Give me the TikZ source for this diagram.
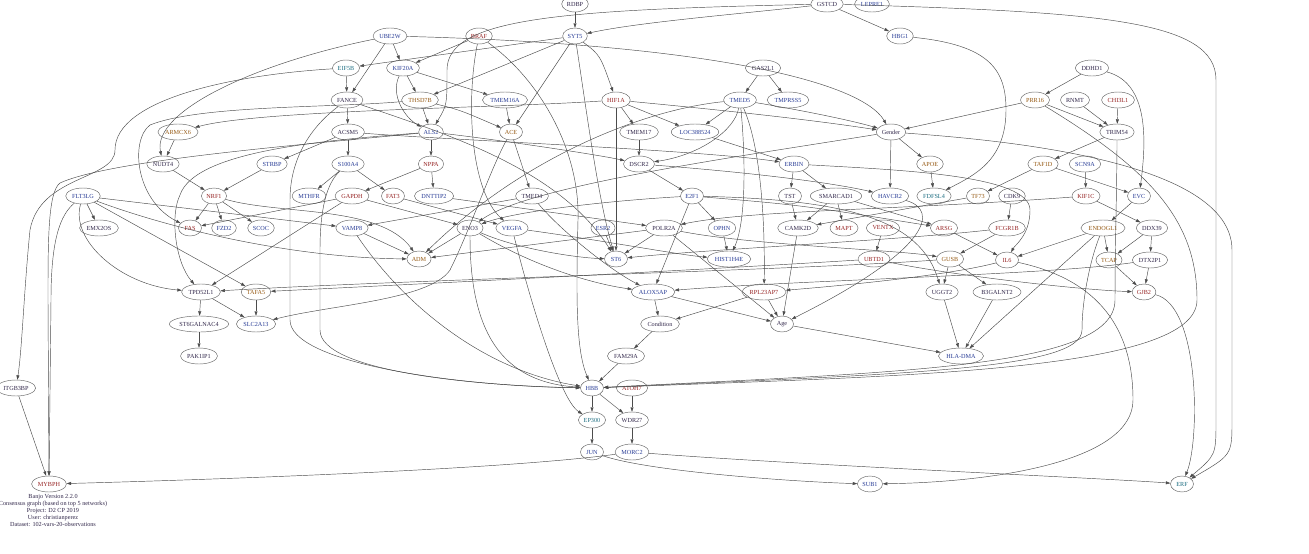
\documentclass[tikz,border=0pt]{standalone}
\usepackage{fontspec}
\setmainfont{Liberation Serif}
\usetikzlibrary{shapes.geometric,arrows.meta}
\definecolor{cb}{RGB}{40,60,150}
\definecolor{cr}{RGB}{150,35,35}
\definecolor{co}{RGB}{150,90,20}
\definecolor{ct}{RGB}{30,110,130}
\definecolor{cd}{RGB}{50,40,75}
\newcommand\gn[4]{\node[nd,text=#4] (#1) at (#2) {#3};}
\begin{document}
\begin{tikzpicture}[x=1pt,y=-1pt,
  nd/.style={ellipse,draw=black!60,line width=0.45pt,minimum height=16pt,minimum width=23pt,inner xsep=1.3pt,inner ysep=0pt,font=\fontsize{6.2}{7}\selectfont},
  e/.style={-{Triangle[length=4.5pt,width=3pt]},draw=black!70,line width=0.45pt}]
\fill[white] (0,0) rectangle (1309,554);
\useasboundingbox (0,0) rectangle (1309,554);
% nodes
\gn{RDBP}{575,4}{RDBP}{cd}
\gn{GSTCD}{827,4}{GSTCD}{cd}
\gn{LEPRE1}{872,4}{LEPRE1}{cb}
\gn{UBE2W}{390,36}{UBE2W}{cb}
\gn{BRAF}{479,36}{BRAF}{cr}
\gn{SYT5}{575,36}{SYT5}{cb}
\gn{HBG1}{900,36}{HBG1}{cb}
\gn{EIF5B}{346,68}{EIF5B}{ct}
\gn{KIF20A}{403,68}{KIF20A}{cb}
\gn{GAS2L1}{763,68}{GAS2L1}{cd}
\gn{DDHD1}{1092,68}{DDHD1}{cd}
\gn{FANCE}{347,100}{FANCE}{cd}
\gn{THSD7B}{420,100}{THSD7B}{co}
\gn{TMEM16A}{505,100}{TMEM16A}{cb}
\gn{HIF1A}{616,100}{HIF1A}{cr}
\gn{TMED5}{740,100}{TMED5}{cb}
\gn{TMPRSS5}{788,100}{TMPRSS5}{cb}
\gn{PRR16}{1035,100}{PRR16}{co}
\gn{RNMT}{1075,100}{RNMT}{cd}
\gn{CHI3L1}{1118,100}{CHI3L1}{cr}
\gn{ARMCX6}{178,132}{ARMCX6}{co}
\gn{ACSM5}{348,132}{ACSM5}{cd}
\gn{ALS2}{431,132}{ALS2}{cb}
\gn{ACE}{511,132}{ACE}{co}
\gn{TMEM17}{639,132}{TMEM17}{cd}
\gn{LOC388524}{695,132}{LOC388524}{cb}
\gn{Gender}{891,132}{Gender}{cd}
\gn{TRIM54}{1117,132}{TRIM54}{cd}
\gn{NUDT4}{163,164}{NUDT4}{cd}
\gn{STRBP}{272,164}{STRBP}{cb}
\gn{S100A4}{348,164}{S100A4}{cb}
\gn{NPPA}{431,164}{NPPA}{cr}
\gn{DSCR2}{639,164}{DSCR2}{cd}
\gn{ERBIN}{794,164}{ERBIN}{cb}
\gn{APOE}{930,164}{APOE}{co}
\gn{TAF1D}{1043,164}{TAF1D}{co}
\gn{SCN9A}{1085,164}{SCN9A}{cb}
\gn{FLT3LG}{83,196}{FLT3LG}{cb}
\gn{NRF1}{214,196}{NRF1}{cr}
\gn{MTHFR}{309,196}{MTHFR}{cb}
\gn{GAPDH}{352,196}{GAPDH}{cr}
\gn{FAT3}{393,196}{FAT3}{cr}
\gn{DNTTIP2}{434,196}{DNTTIP2}{cb}
\gn{TMED4}{532,196}{TMED4}{cd}
\gn{E2F1}{692,196}{E2F1}{cb}
\gn{TST}{790,196}{TST}{cd}
\gn{SMARCAD1}{836,196}{SMARCAD1}{cd}
\gn{HAVCR2}{890,196}{HAVCR2}{cb}
\gn{FDFSL4}{934,196}{FDFSL4}{ct}
\gn{TF73}{978,196}{TF73}{co}
\gn{CDK9}{1012,196}{CDK9}{cd}
\gn{KIF1C}{1086,196}{KIF1C}{cr}
\gn{EVC}{1139,196}{EVC}{cb}
\gn{EMX2OS}{99,228}{EMX2OS}{cd}
\gn{FAS}{190,228}{FAS}{cr}
\gn{FZD2}{224,228}{FZD2}{cb}
\gn{SCOC}{261,228}{SCOC}{cb}
\gn{VAMP8}{352,228}{VAMP8}{cb}
\gn{ENO3}{470,228}{ENO3}{cd}
\gn{VEGFA}{512,228}{VEGFA}{cb}
\gn{ESR2}{603,228}{ESR2}{cb}
\gn{POLR2A}{664,228}{POLR2A}{cd}
\gn{OPHN}{722,228}{OPHN}{cb}
\gn{CAMK2D}{798,228}{CAMK2D}{cd}
\gn{MAPT}{844,228}{MAPT}{cr}
\gn{VENTX}{883,228}{VENTX}{cr}
\gn{ARSG}{944,228}{ARSG}{cr}
\gn{FCGR1B}{1007,228}{FCGR1B}{cr}
\gn{ENDOGL1}{1103,228}{ENDOGL1}{co}
\gn{DDX39}{1152,228}{DDX39}{cd}
\gn{ADM}{419,259}{ADM}{co}
\gn{ST6}{616,259}{ST6}{cb}
\gn{HIST1H4E}{729,259}{HIST1H4E}{cb}
\gn{UBTD1}{874,259}{UBTD1}{cr}
\gn{GUSB}{950,259}{GUSB}{co}
\gn{IL6}{1007,260}{IL6}{cr}
\gn{TCAP}{1109,260}{TCAP}{co}
\gn{DTX2P1}{1150,260}{DTX2P1}{cd}
\gn{TPD52L1}{201,292}{TPD52L1}{cd}
\gn{TAFA5}{256,292}{TAFA5}{co}
\gn{ALOX5AP}{653,292}{ALOX5AP}{cb}
\gn{RPL23AP7}{764,292}{RPL23AP7}{cr}
\gn{UGGT2}{942,292}{UGGT2}{cd}
\gn{B3GALNT2}{997,292}{B3GALNT2}{cd}
\gn{GJB2}{1144,292}{GJB2}{cr}
\gn{ST6GALNAC4}{199,324}{ST6GALNAC4}{cd}
\gn{SLC2A13}{256,324}{SLC2A13}{cb}
\gn{Condition}{660,324}{Condition}{cd}
\gn{Age}{782,324}{Age}{cd}
\gn{PAK1IP1}{199,356}{PAK1IP1}{cd}
\gn{FAM29A}{626,356}{FAM29A}{cd}
\gn{HLADMA}{961,356}{HLA-DMA}{cb}
\gn{ITGB3BP}{16,388}{ITGB3BP}{cd}
\gn{HBB}{592,388}{HBB}{cb}
\gn{ATOH7}{632,388}{ATOH7}{cr}
\gn{EP300}{592,420}{EP300}{ct}
\gn{WDR27}{632,420}{WDR27}{cd}
\gn{JUN}{592,452}{JUN}{cb}
\gn{MORC2}{632,452}{MORC2}{cb}
\gn{MYBPH}{49,484}{MYBPH}{cr}
\gn{SUB1}{870,484}{SUB1}{cb}
\gn{ERF}{1182,484}{ERF}{ct}
\node[text=cd,align=center,font=\fontsize{6.2}{6.8}\selectfont] (legend) at (53,510.5)
 {Banjo Version 2.2.0\\Consensus graph (based on top 5 networks)\\Project: D2 CP 2019\\User: christianperez\\Dataset: 102-vars-20-observations};
% edges
\draw[e] (RDBP) -- (SYT5);
\draw[e] (GSTCD) .. controls (740,14) and (640,22) .. (SYT5);
\draw[e] (GSTCD) .. controls (560,10) and (447,18) .. (447,70) .. controls (447,105) .. (ALS2);
\draw[e] (GSTCD) -- (HBG1);
\draw[e] (GSTCD) .. controls (1100,12) and (1216,20) .. (1216,80) -- (1216,420) .. controls (1216,455) .. (ERF);
\draw[e] (UBE2W) -- (KIF20A);
\draw[e] (UBE2W) -- (FANCE);
\draw[e] (UBE2W) .. controls (260,62) and (152,110) .. (NUDT4);
\draw[e] (UBE2W) .. controls (700,44) and (860,80) .. (Gender);
\draw[e] (BRAF) -- (KIF20A);
\draw[e] (BRAF) .. controls (466,100) and (470,190) .. (VEGFA);
\draw[e] (BRAF) .. controls (540,80) and (580,150) .. (578,220) .. controls (576,300) and (576,350) .. (HBB);
\draw[e] (SYT5) -- (EIF5B);
\draw[e] (SYT5) -- (THSD7B);
\draw[e] (SYT5) -- (ACE);
\draw[e] (SYT5) .. controls (600,55) .. (HIF1A);
\draw[e] (SYT5) .. controls (585,100) and (598,200) .. (ST6);
\draw[e] (HBG1) .. controls (990,45) and (1006,70) .. (1006,110) .. controls (1006,160) and (975,175) .. (FDFSL4);
\draw[e] (EIF5B) -- (FANCE);
\draw[e] (EIF5B) .. controls (230,75) and (115,100) .. (115,150) .. controls (115,180) and (40,175) .. (30,230) .. controls (24,290) and (22,350) .. (ITGB3BP);
\draw[e] (KIF20A) -- (THSD7B);
\draw[e] (KIF20A) -- (TMEM16A);
\draw[e] (KIF20A) .. controls (390,95) and (405,118) .. (ALS2);
\draw[e] (THSD7B) -- (ALS2);
\draw[e] (THSD7B) .. controls (460,110) .. (ACE);
\draw[e] (THSD7B) .. controls (330,108) and (200,105) .. (150,125) .. controls (130,140) and (135,200) .. (FAS);
\draw[e] (TMEM16A) -- (ACE);
\draw[e] (HIF1A) .. controls (500,108) and (260,110) .. (ARMCX6);
\draw[e] (HIF1A) -- (TMEM17);
\draw[e] (HIF1A) -- (LOC388524);
\draw[e] (HIF1A) .. controls (700,108) and (800,118) .. (Gender);
\draw[e] (HIF1A) -- (ST6);
\draw[e] (GAS2L1) -- (TMED5);
\draw[e] (GAS2L1) -- (TMPRSS5);
\draw[e] (DDHD1) -- (PRR16);
\draw[e] (DDHD1) .. controls (1145,82) and (1148,130) .. (EVC);
\draw[e] (PRR16) -- (TRIM54);
\draw[e] (PRR16) -- (Gender);
\draw[e] (PRR16) .. controls (1150,170) and (1197,220) .. (1197,300) .. controls (1197,372) and (900,376) .. (HBB);
\draw[e] (RNMT) -- (TRIM54);
\draw[e] (CHI3L1) -- (TRIM54);
\draw[e] (TRIM54) -- (TAF1D);
\draw[e] (TRIM54) .. controls (1117,180) and (1115,250) .. (1115,300) .. controls (1115,368) and (900,372) .. (HBB);
\draw[e] (TMED5) -- (LOC388524);
\draw[e] (TMED5) .. controls (800,110) and (850,120) .. (Gender);
\draw[e] (TMED5) .. controls (735,130) and (700,155) .. (DSCR2);
\draw[e] (TMED5) .. controls (745,150) and (747,220) .. (HIST1H4E);
\draw[e] (TMED5) .. controls (762,150) and (765,230) .. (RPL23AP7);
\draw[e] (TMED5) .. controls (640,110) and (520,160) .. (ADM);
\draw[e] (ARMCX6) -- (NUDT4);
\draw[e] (ACSM5) -- (STRBP);
\draw[e] (ACSM5) -- (S100A4);
\draw[e] (ACSM5) .. controls (450,140) and (700,150) .. (ERBIN);
\draw[e] (FANCE) -- (ACSM5);
\draw[e] (FANCE) .. controls (450,135) and (560,170) .. (ST6);
\draw[e] (FANCE) .. controls (320,120) and (290,150) .. (290,200) -- (290,320) .. controls (290,362) and (450,386) .. (HBB);
\draw[e] (ALS2) -- (NPPA);
\draw[e] (ALS2) .. controls (500,140) and (600,155) .. (DSCR2);
\draw[e] (ALS2) .. controls (330,140) and (195,150) .. (180,195) .. controls (170,215) and (175,262) .. (TPD52L1);
\draw[e] (ALS2) .. controls (300,145) and (110,160) .. (60,183) .. controls (48,192) and (48,240) .. (48,300) -- (MYBPH);
\draw[e] (ACE) -- (TMED4);
\draw[e] (ACE) .. controls (490,170) and (470,230) .. (450,270) .. controls (430,300) and (330,305) .. (SLC2A13);
\draw[e] (TMEM17) -- (DSCR2);
\draw[e] (LOC388524) -- (ERBIN);
\draw[e] (Gender) -- (APOE);
\draw[e] (Gender) -- (HAVCR2);
\draw[e] (Gender) .. controls (750,155) and (530,185) .. (ENO3);
\draw[e] (Gender) .. controls (1000,140) and (1232,160) .. (1232,250) -- (1232,420) .. controls (1232,455) .. (ERF);
\draw[e] (NUDT4) -- (NRF1);
\draw[e] (STRBP) -- (NRF1);
\draw[e] (S100A4) -- (MTHFR);
\draw[e] (S100A4) -- (FAT3);
\draw[e] (S100A4) .. controls (330,180) and (320,200) .. (320,250) -- (320,330) .. controls (320,372) and (480,386) .. (HBB);
\draw[e] (NPPA) -- (GAPDH);
\draw[e] (NPPA) -- (DNTTIP2);
\draw[e] (DSCR2) -- (E2F1);
\draw[e] (DSCR2) .. controls (720,170) and (820,180) .. (HAVCR2);
\draw[e] (ERBIN) -- (TST);
\draw[e] (ERBIN) -- (SMARCAD1);
\draw[e] (ERBIN) .. controls (900,170) and (1030,175) .. (1030,210) .. controls (1030,235) and (1015,245) .. (IL6);
\draw[e] (APOE) -- (FDFSL4);
\draw[e] (TAF1D) -- (TF73);
\draw[e] (TAF1D) -- (EVC);
\draw[e] (SCN9A) -- (KIF1C);
\draw[e] (FLT3LG) -- (EMX2OS);
\draw[e] (FLT3LG) .. controls (70,240) and (120,285) .. (TPD52L1);
\draw[e] (FLT3LG) -- (TAFA5);
\draw[e] (FLT3LG) -- (VAMP8);
\draw[e] (FLT3LG) .. controls (180,232) and (300,258) .. (ADM);
\draw[e] (FLT3LG) .. controls (60,215) and (51,240) .. (51,300) -- (MYBPH);
\draw[e] (NRF1) -- (FAS);
\draw[e] (NRF1) -- (FZD2);
\draw[e] (NRF1) -- (SCOC);
\draw[e] (NRF1) .. controls (280,215) and (380,205) .. (ADM);
\draw[e] (GAPDH) -- (FAS);
\draw[e] (GAPDH) -- (TPD52L1);
\draw[e] (GAPDH) -- (ENO3);
\draw[e] (FAT3) -- (VEGFA);
\draw[e] (DNTTIP2) -- (POLR2A);
\draw[e] (TMED4) -- (VAMP8);
\draw[e] (TMED4) .. controls (560,230) and (610,270) .. (ALOX5AP);
\draw[e] (E2F1) .. controls (620,200) and (520,210) .. (ENO3);
\draw[e] (E2F1) -- (OPHN);
\draw[e] (E2F1) -- (ALOX5AP);
\draw[e] (E2F1) .. controls (800,205) .. (ARSG);
\draw[e] (E2F1) .. controls (850,200) and (920,220) .. (UGGT2);
\draw[e] (TST) -- (CAMK2D);
\draw[e] (SMARCAD1) -- (CAMK2D);
\draw[e] (SMARCAD1) -- (MAPT);
\draw[e] (SMARCAD1) -- (ARSG);
\draw[e] (HAVCR2) .. controls (940,210) and (930,250) .. (Age);
\draw[e] (TF73) -- (CAMK2D);
\draw[e] (CDK9) -- (FCGR1B);
\draw[e] (KIF1C) .. controls (900,210) and (750,210) .. (POLR2A);
\draw[e] (KIF1C) -- (DDX39);
\draw[e] (EVC) -- (ENDOGL1);
\draw[e] (VAMP8) -- (ADM);
\draw[e] (VAMP8) .. controls (400,300) and (480,370) .. (HBB);
\draw[e] (ENO3) -- (ADM);
\draw[e] (ENO3) .. controls (520,250) and (580,258) .. (ST6);
\draw[e] (ENO3) .. controls (540,270) and (600,285) .. (ALOX5AP);
\draw[e] (ENO3) .. controls (470,330) and (500,382) .. (HBB);
\draw[e] (VEGFA) .. controls (600,240) and (680,255) .. (HIST1H4E);
\draw[e] (VEGFA) .. controls (530,300) and (560,400) .. (EP300);
\draw[e] (ESR2) -- (ST6);
\draw[e] (POLR2A) -- (ST6);
\draw[e] (POLR2A) -- (ADM);
\draw[e] (POLR2A) -- (Age);
\draw[e] (POLR2A) .. controls (750,245) and (900,250) .. (GUSB);
\draw[e] (OPHN) -- (HIST1H4E);
\draw[e] (CAMK2D) -- (Age);
\draw[e] (VENTX) -- (UBTD1);
\draw[e] (ARSG) -- (IL6);
\draw[e] (FCGR1B) .. controls (900,240) and (700,250) .. (ST6);
\draw[e] (FCGR1B) -- (GUSB);
\draw[e] (ENDOGL1) -- (IL6);
\draw[e] (ENDOGL1) -- (TCAP);
\draw[e] (ENDOGL1) -- (HLADMA);
\draw[e] (ENDOGL1) .. controls (1090,260) and (1082,300) .. (1082,330) .. controls (1082,370) and (900,374) .. (HBB);
\draw[e] (DDX39) -- (TCAP);
\draw[e] (DDX39) -- (DTX2P1);
\draw[e] (UBTD1) .. controls (700,270) and (400,285) .. (TAFA5);
\draw[e] (UBTD1) .. controls (950,275) and (1080,290) .. (GJB2);
\draw[e] (GUSB) -- (UGGT2);
\draw[e] (GUSB) -- (B3GALNT2);
\draw[e] (GUSB) .. controls (800,270) and (400,280) .. (TPD52L1);
\draw[e] (IL6) .. controls (950,275) and (850,285) .. (RPL23AP7);
\draw[e] (IL6) .. controls (1100,280) and (1133,330) .. (1133,400) .. controls (1133,460) and (1000,482) .. (SUB1);
\draw[e] (TCAP) -- (GJB2);
\draw[e] (DTX2P1) -- (GJB2);
\draw[e] (DTX2P1) .. controls (1050,275) and (800,280) .. (ALOX5AP);
\draw[e] (TPD52L1) -- (ST6GALNAC4);
\draw[e] (TPD52L1) -- (SLC2A13);
\draw[e] (TAFA5) -- (SLC2A13);
\draw[e] (ALOX5AP) -- (Condition);
\draw[e] (ALOX5AP) -- (Age);
\draw[e] (RPL23AP7) -- (Condition);
\draw[e] (RPL23AP7) -- (Age);
\draw[e] (UGGT2) -- (HLADMA);
\draw[e] (B3GALNT2) -- (HLADMA);
\draw[e] (GJB2) .. controls (1200,305) and (1200,440) .. (ERF);
\draw[e] (ST6GALNAC4) -- (PAK1IP1);
\draw[e] (Condition) -- (FAM29A);
\draw[e] (FAM29A) -- (HBB);
\draw[e] (Age) -- (HLADMA);
\draw[e] (ITGB3BP) -- (MYBPH);
\draw[e] (HBB) -- (EP300);
\draw[e] (HBB) -- (WDR27);
\draw[e] (ATOH7) -- (WDR27);
\draw[e] (EP300) -- (JUN);
\draw[e] (WDR27) -- (MORC2);
\draw[e] (JUN) .. controls (650,472) and (800,482) .. (SUB1);
\draw[e] (MORC2) .. controls (500,470) and (200,480) .. (MYBPH);
\draw[e] (MORC2) .. controls (800,465) and (1100,478) .. (ERF);
\end{tikzpicture}
\end{document}
